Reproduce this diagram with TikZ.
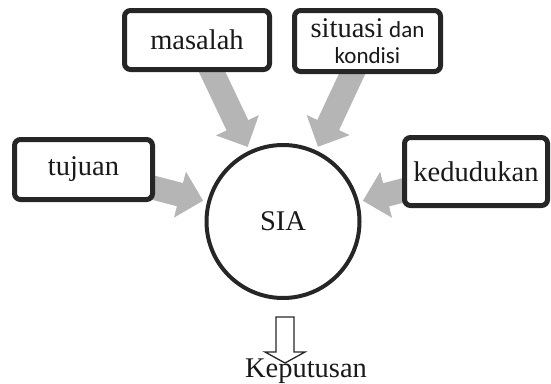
\documentclass[tikz,border=0pt]{standalone}
\usepackage{fontspec}
\setmainfont{Liberation Serif}
\newfontfamily\calibri{Carlito}
\usetikzlibrary{arrows.meta,backgrounds}

\definecolor{garis}{RGB}{38,38,38}
\definecolor{abu}{RGB}{181,181,181}

\tikzset{every picture/.style={line width=0.75pt}}
\tikzset{
	kotak/.style={draw=garis, line width=5pt, rounded corners=6pt, fill=white, inner sep=0pt, text=black!90, font=\fontsize{28.5}{34}\selectfont},
	panah/.style={draw=abu, line width=24pt, -{Triangle[width=46pt,length=24pt]}, shorten >=4pt}
}

\begin{document}
\begin{tikzpicture}[x=1pt,y=1pt,yscale=-1,xscale=1]
	\useasboundingbox (0,0) rectangle (551,383);
	
	%Shape: Rounded Rect [masalah]
	\node [kotak, minimum width=145pt, minimum height=59pt] (masalah) at (197,40) {masalah};
	%Shape: Rounded Rect [situasi]
	\node [kotak, minimum width=146pt, minimum height=61pt, align=center, font=\fontsize{23}{26}\selectfont] (situasi) at (367.5,41) {{\fontsize{28.5}{26}\selectfont situasi} {\calibri dan}\\{\calibri kondisi}};
	%Shape: Rounded Rect [tujuan]
	\node [kotak, minimum width=138pt, minimum height=60pt] (tujuan) at (83.5,169.5) {tujuan};
	%Shape: Rounded Rect [kedudukan]
	\node [kotak, minimum width=143pt, minimum height=68pt] (kedudukan) at (476,171.5) {kedudukan};
	%Shape: Circle [sia]
	\node [circle, draw=garis, line width=4pt, minimum size=153pt, inner sep=0pt, text=black!90, font=\fontsize{28.5}{34}\selectfont] (sia) at (283,221.5) {SIA};
	
	% Text Node
	\node [anchor=base, inner sep=0pt, text=black!90, font=\fontsize{28.5}{34}\selectfont] (keputusan) at (306,377) {Keputusan};
	
	%Block Arrows
	\begin{scope}[on background layer]
		\draw [panah] (masalah.center) -- (sia);
		\draw [panah] (situasi.center) -- (sia);
		\draw [panah] (tujuan.center) -- (sia);
		\draw [panah] (kedudukan.center) -- (sia);
	\end{scope}
	
	%Down Arrow
	\coordinate (ujung) at (285,317);
	\draw [garis, line width=1.3pt, line join=miter] (ujung) ++(-9,0) -- ++(0,35) -- ++(-11,0) -- ++(20,11) -- ++(20,-11) -- ++(-11,0) -- ++(0,-35) -- cycle ;
	
\end{tikzpicture}
\end{document}
